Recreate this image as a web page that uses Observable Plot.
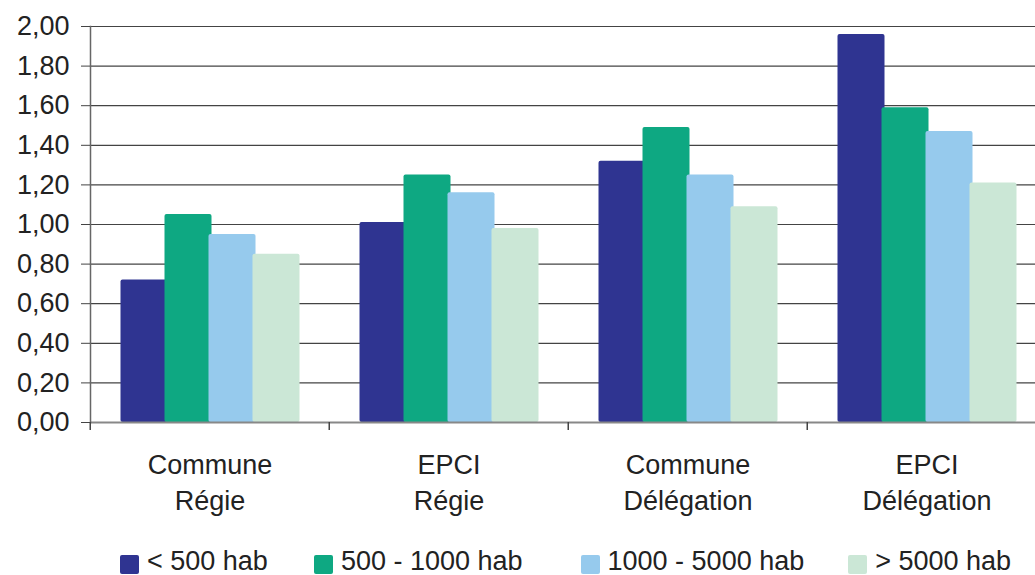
<!DOCTYPE html>
<html>
<head>
<meta charset="utf-8">
<script src="https://cdn.jsdelivr.net/npm/d3@7"></script>
<script src="https://cdn.jsdelivr.net/npm/@observablehq/plot@0.6"></script>
<style>
  html, body { margin: 0; padding: 0; background: #fff; overflow: hidden; }
  body { font-family: "Liberation Sans", Arial, sans-serif; width: 1035px; height: 575px; }
  #legend { display: flex; align-items: center; margin-left: 120px; margin-top: 6px; font-size: 27px; line-height: 30px; color: #222; white-space: nowrap; }
  #legend .item { display: flex; align-items: center; }
  #legend .sw { width: 19px; height: 19px; border-radius: 2px; margin-right: 8px; margin-top: 6px; }
</style>
</head>
<body>
<div id="chart"></div>
<div id="legend"></div>
<script>
const categories = ["Commune\nRégie", "EPCI\nRégie", "Commune\nDélégation", "EPCI\nDélégation"];
const series = ["< 500 hab", "500 - 1000 hab", "1000 - 5000 hab", "> 5000 hab"];
const colors = ["#2f3491", "#0ea882", "#96caed", "#cbe7d6"];
const valuesLt500 = [0.72, 1.01, 1.32, 1.96];
const values500to1000 = [1.05, 1.25, 1.49, 1.59];
const values1000to5000 = [0.95, 1.16, 1.25, 1.47];
const valuesGt5000 = [0.85, 0.98, 1.09, 1.21];
const yTicks = [0, 0.2, 0.4, 0.6, 0.8, 1.0, 1.2, 1.4, 1.6, 1.8, 2.0];

const seriesValues = [valuesLt500, values500to1000, values1000to5000, valuesGt5000];
const data = [];
categories.forEach((c, i) => {
  series.forEach((s, j) => data.push({category: c, series: s, value: seriesValues[j][i]}));
});

const width = 1035, height = 540;
const marginLeft = 89, marginRight = -12, marginTop = 26, marginBottom = 118;
const facetStep = (width - marginLeft - marginRight) / categories.length;
const fmt = d => d.toFixed(2).replace(".", ",");

const chart = Plot.plot({
  width, height, marginLeft, marginRight, marginTop, marginBottom,
  style: {fontFamily: "'Liberation Sans', Arial, sans-serif", fontSize: "27px", color: "#222", background: "#fff", overflow: "hidden"},
  fx: {domain: categories, padding: 0, label: null},
  x: {domain: series, paddingInner: 0, paddingOuter: 0.7, axis: null},
  y: {domain: [0, 2], label: null},
  color: {domain: series, range: colors},
  marks: [
    Plot.gridY(yTicks, {stroke: "#444", strokeOpacity: 1, strokeWidth: 1.2}),
    Plot.barY(data, {fx: "category", x: "series", y: "value", fill: "series", insetLeft: -1.5, insetRight: -1.5, rx: 2}),
    Plot.ruleY([0], {stroke: "#888", strokeWidth: 2}),
    Plot.frame({anchor: "left", facetAnchor: "left", stroke: "#666", strokeWidth: 1.5}),
    Plot.axisY(yTicks, {tickSize: 9, tickPadding: 12, tickFormat: fmt, fontSize: 27, stroke: "#444", label: null}),
    Plot.axisFx({anchor: "bottom", tickSize: 0, tickPadding: 25, lineHeight: 1.36, fontSize: 27, label: null}),
    Plot.axisFx({anchor: "bottom", tickSize: 8, text: null, dx: -facetStep / 2, stroke: "#444", strokeWidth: 1.5, label: null})
  ]
});
document.getElementById("chart").appendChild(chart);

const legend = document.getElementById("legend");
const gaps = [46, 58, 44, 0];
series.forEach((s, j) => {
  const item = document.createElement("div");
  item.className = "item";
  item.style.marginRight = gaps[j] + "px";
  const sw = document.createElement("span");
  sw.className = "sw";
  sw.style.background = chart.scale("color").apply(s);
  const t = document.createElement("span");
  t.textContent = s;
  item.appendChild(sw);
  item.appendChild(t);
  legend.appendChild(item);
});
</script>
</body>
</html>
